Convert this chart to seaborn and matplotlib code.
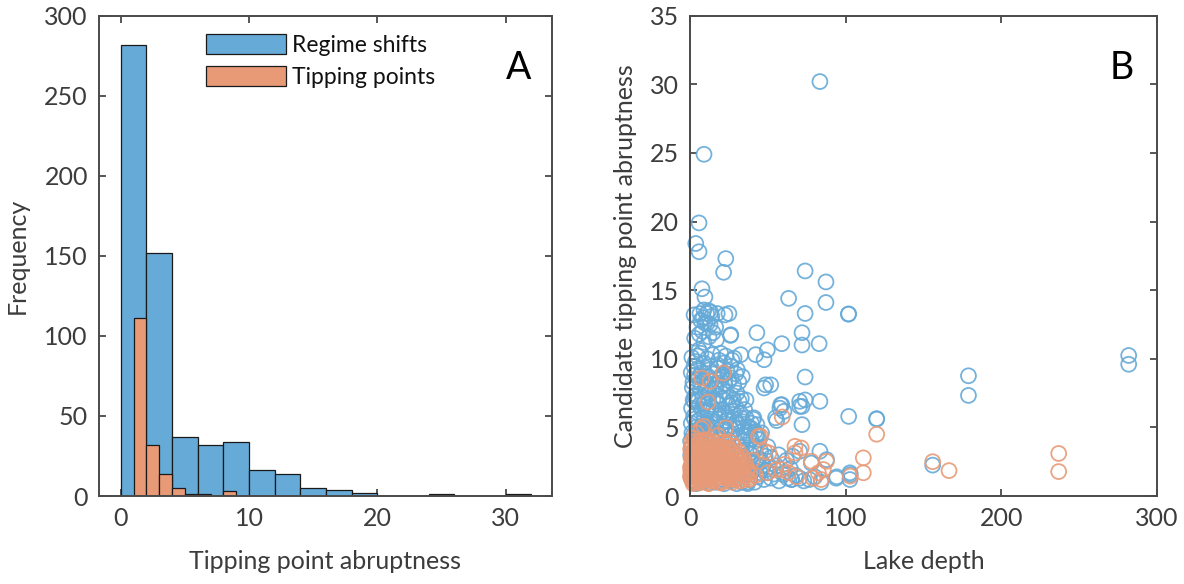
import numpy as np
import pandas as pd
import matplotlib
matplotlib.use("Agg")
import matplotlib.pyplot as plt
import seaborn as sns

# ---------------- data ----------------
# Panel A: histogram bin edges and counts
rs_edges = [0, 2, 4, 6, 8, 10, 12, 14, 16, 18, 20, 22, 24, 26, 28, 30, 32]
rs_counts = [282, 152, 37, 32, 34, 16, 14, 5, 4, 2, 0, 0, 1, 0, 0, 1]
tp_edges = [1, 2, 3, 4, 5, 6, 7, 8, 9]
tp_counts = [111, 32, 14, 5, 1, 1, 0, 3]

# Panel B: lake depth vs abruptness
rs_depth = [
    83.5, 9, 5.8, 3.7, 5.8, 23, 21.6, 74, 87.4, 7.7, 9.6, 63.4, 87.4, 74, 101.8, 25, 22.5, 10.7, 6.4, 8.5,
    12, 14, 9.5, 12.9, 16.5, 43, 26, 72, 17, 59, 72, 83, 2.6, 9, 13.3, 17.5, 6.9, 11.1, 26.2, 49.7,
    42.2, 47.6, 32.6, 28.3, 23, 19.7, 5.8, 4.7, 2.6, 9, 13.3, 17.5, 26.2, 30.4, 33.6, 21.9, 5.8, 48.6, 51.9, 74,
    59, 74, 72, 83.5, 55.7, 72, 102, 120, 179, 179, 282, 282, 102, 120, 58.3, 60.4, 55, 70.5, 70.5, 57.8,
    83.5, 70.5, 87.8, 78, 156, 94, 103, 102.8, 43.3, 45.5, 39, 41, 32.6, 47.6,
    1.5, 3.2, 4.8, 6.5, 8.2, 10.1, 12.4, 14.7, 16.3, 18.8, 20.5, 23.1, 25.6, 27.9, 30.2, 33.0,
    1.0, 2.7, 4.4, 6.0, 7.9, 9.6, 11.3, 13.8, 15.9, 18.0, 20.2, 22.7, 24.9, 27.3, 29.8, 32.4, 35.1,
    0.8, 2.3, 3.9, 5.6, 7.4, 9.2, 11.0, 12.9, 14.6, 16.8, 19.1, 21.0, 23.5, 25.8, 28.4, 31.0, 34.2, 37.5, 40.6, 43.0,
    1.2, 2.9, 4.6, 6.3, 8.0, 9.9, 11.7, 13.5, 15.4, 17.6, 19.8, 22.0, 24.3, 26.7, 29.1, 31.5, 33.9, 36.4, 39.2, 41.8, 44.5,
    0.9, 2.5, 4.2, 6.1, 8.6, 10.8, 12.9, 15.1, 17.3, 19.5, 21.8, 24.0, 26.2, 28.7, 31.1, 33.6, 36.0, 38.5, 41.2, 48.3,
    1.4, 3.0, 5.0, 7.1, 9.3, 11.5, 13.9, 16.2, 18.5, 20.9, 23.3, 25.7, 28.0, 30.4, 32.8, 35.2, 37.9, 40.3, 43.1, 46.0,
    0.7, 2.2, 3.8, 5.5, 7.6, 9.7, 11.9, 14.2, 16.6, 19.0, 21.4, 23.8, 26.1, 28.5, 31.0, 33.4, 35.9, 38.4, 40.8, 43.5,
    47.6, 49.7, 52.0, 54.0, 57.2, 60.4, 62.8, 65.3, 67.9, 70.5, 73.1, 76.8, 80.2, 84.3, 94.3, 102.8, 60, 65.3, 36.8, 50.5,
    1.2, 3.5, 7.0, 11.0, 14.5, 18.5, 22.0, 27.0,
    0.8, 2.9, 5.2, 7.6, 10.4, 12.6, 15.3, 17.9, 20.6, 23.8, 26.5, 29.5,
    1.9, 4.1, 6.7, 9.3, 11.8, 14.2, 16.9, 19.4, 22.3, 25.0, 28.1, 31.4,
    2.0, 5.1, 8.9, 12.0, 17.2, 21.0, 26.3, 31.6, 36.0,
    3.0, 8.6, 13.4, 18.2, 24.5, 29.6, 36.0, 39.5,
    2.0, 5.3, 10.6, 16.5, 25.3, 34.8, 38.0, 42.6, 46.0,
    39.8, 42.0, 44.2, 47.0, 48.8, 45.0, 41.5, 37.0, 30.0, 22.0, 12.0, 4.0, 1.0, 0.5, 0.4,
    52.0, 55.5, 50.0, 57.0, 62.0, 64.5, 66.0,
    3.0, 6.0, 9.0, 12.2, 4.5, 8.0, 14.8,
]
rs_abrupt = [
    30.2, 24.9, 19.9, 18.4, 17.8, 17.3, 16.3, 16.4, 15.6, 15.1, 14.5, 14.4, 14.1, 13.3, 13.25, 13.3, 13.2, 13.3, 13.3, 13.0,
    13.5, 13.1, 12.6, 12.5, 12.3, 11.9, 11.7, 11.9, 11.4, 11.1, 11.0, 11.1, 13.2, 13.56, 13.4, 13.3, 12.8, 12.6, 11.75, 10.65,
    10.3, 9.93, 10.3, 10.05, 10.2, 10.4, 10.65, 10.2, 9.45, 9.7, 9.45, 9.56, 9.45, 9.2, 8.7, 8.84, 8.7, 8.1, 8.1, 8.67,
    6.65, 7.0, 6.53, 6.9, 5.5, 5.2, 5.8, 5.64, 8.76, 7.33, 10.24, 9.6, 13.27, 5.6, 6.65, 6.17, 5.7, 6.9, 6.53, 6.4,
    3.26, 3.26, 2.65, 2.4, 2.25, 1.3, 1.56, 1.69, 4.47, 3.26, 4.96, 5.7, 5.7, 7.87,
    7.9, 7.3, 8.1, 7.7, 7.2, 7.9, 7.5, 7.0, 7.8, 7.3, 8.0, 7.6, 7.2, 7.0, 7.5, 7.1,
    6.4, 6.9, 6.1, 6.6, 6.3, 6.8, 6.2, 6.5, 6.0, 6.7, 6.3, 6.0, 6.6, 6.2, 6.4, 6.0, 6.3,
    5.3, 5.8, 5.0, 5.5, 5.1, 5.7, 5.2, 5.6, 5.0, 5.4, 5.9, 5.1, 5.5, 5.0, 5.6, 5.2, 5.4, 5.0, 5.6, 5.2,
    4.6, 4.1, 4.8, 4.3, 4.7, 4.2, 4.9, 4.4, 4.0, 4.6, 4.2, 4.8, 4.1, 4.5, 4.9, 4.3, 4.0, 4.6, 4.2, 4.7, 4.1,
    3.6, 3.1, 3.8, 3.3, 3.7, 3.2, 3.9, 3.4, 3.0, 3.6, 3.2, 3.8, 3.3, 3.0, 3.6, 3.2, 3.7, 3.1, 3.5, 2.9,
    2.6, 2.1, 2.8, 2.3, 2.7, 2.2, 2.9, 2.4, 2.0, 2.6, 2.2, 2.8, 2.3, 2.0, 2.7, 2.3, 2.0, 2.6, 2.2, 2.5,
    1.5, 1.1, 1.8, 1.3, 1.6, 1.1, 1.9, 1.4, 1.0, 1.7, 1.2, 1.5, 1.1, 1.8, 1.3, 1.0, 1.6, 1.2, 1.9, 1.4,
    1.2, 1.7, 1.3, 1.6, 1.1, 1.7, 1.3, 1.2, 1.5, 1.3, 1.1, 1.2, 1.4, 1.0, 1.4, 1.2, 1.56, 1.2, 1.0, 2.1,
    10.1, 9.8, 10.4, 10.0, 10.3, 9.9, 9.7, 9.9,
    9.0, 8.8, 9.3, 9.0, 8.7, 9.2, 8.9, 9.3, 8.8, 9.1, 8.6, 8.9,
    8.3, 8.5, 8.2, 8.4, 8.0, 8.4, 8.1, 8.5, 8.2, 8.4, 8.1, 8.3,
    7.0, 6.9, 6.7, 7.1, 6.9, 7.1, 6.8, 6.9, 7.0,
    5.6, 5.4, 5.3, 5.6, 5.7, 5.4, 5.7, 5.3,
    4.4, 4.5, 4.5, 4.3, 4.4, 4.4, 4.4, 4.5, 4.6,
    3.0, 3.4, 2.7, 2.2, 1.9, 1.7, 1.0, 0.9, 0.9, 0.9, 0.95, 0.9, 2.0, 3.0, 4.0,
    2.8, 2.2, 3.6, 3.0, 2.6, 2.0, 2.9,
    11.5, 11.8, 11.2, 11.6, 12.3, 12.0, 11.9,
]

tp_depth = [
    0.8, 2.4, 4.1, 6.2, 8.4, 10.6, 12.8, 15.0, 17.7, 20.3, 23.6, 28.3,
    1.3, 3.0, 5.0, 7.2, 9.5, 11.6, 13.9, 16.1, 18.4, 21.0, 23.2, 25.9, 30.1,
    0.6, 2.1, 3.8, 5.7, 7.9, 10.2, 12.3, 14.6, 16.9, 19.2, 21.5, 24.0, 26.8, 29.5, 32.1,
    1.1, 2.8, 4.6, 6.5, 8.7, 10.9, 13.1, 15.5, 17.8, 20.2, 22.7, 25.1, 27.6, 30.3, 33.0, 35.8,
    0.5, 2.0, 3.6, 5.4, 7.3, 9.4, 11.6, 13.8, 16.0, 18.3, 20.7, 23.1, 25.6, 28.1, 30.7, 33.5, 36.6,
    1.0, 2.6, 4.3, 6.1, 8.1, 10.2, 12.4, 14.7, 17.1, 19.6, 22.1, 24.6, 27.2, 29.8, 32.5, 35.3, 38.0,
    7.5, 12.9, 21.4, 11.5, 9.0, 23.0, 7.5, 45.4, 28.3, 50.8, 48.0, 59.3, 67.5, 71.5, 67.5, 78.0,
    87.7, 85.7, 82.5, 111.4, 111.4, 120.0, 156.0, 166.5, 237.0, 237.0, 63.2, 68.5, 79.0, 84.3, 103.0, 49.7,
    60.4, 55.0, 59.0, 42.0, 40.0, 44.0, 4.0, 18.0,
    1.8, 3.4, 5.3, 7.4, 9.6, 11.8, 14.1, 16.4, 19.0, 21.8, 25.0, 26.5,
    0.4, 2.2, 4.0, 6.1, 8.3, 10.6, 12.8, 15.0, 17.2, 19.8, 22.2, 24.6, 27.4, 31.5,
    1.4, 3.0, 4.8, 6.8, 9.0, 11.3, 13.5, 15.8, 18.1, 20.4, 22.8, 25.3, 28.1, 30.9, 34.0,
    0.3, 2.0, 3.7, 5.6, 7.6, 9.8, 12.0, 14.3, 16.7, 19.1, 21.5, 23.9, 26.4, 29.0, 31.7, 34.5, 37.0,
    1.3, 2.9, 4.5, 6.3, 8.4, 10.5, 12.7, 15.0, 17.2, 19.5, 22.0, 24.4, 26.9, 29.4, 32.1, 35.0, 38.5,
    0.3, 1.8, 3.4, 5.2, 7.2, 9.2, 11.3, 13.5, 15.9, 18.3, 20.8, 23.3, 25.9, 28.5, 31.1, 33.9, 36.8,
    2.0, 6.0, 12.0, 20.0,
]
tp_abrupt = [
    3.9, 4.2, 3.7, 4.0, 3.6, 4.1, 3.8, 3.5, 3.9, 3.6, 3.8, 3.6,
    3.2, 3.4, 3.0, 3.3, 3.1, 3.4, 3.0, 3.3, 3.1, 3.4, 3.0, 3.3, 3.0,
    2.8, 2.6, 2.9, 2.5, 2.8, 2.6, 2.9, 2.5, 2.7, 2.9, 2.5, 2.8, 2.6, 2.9, 2.5,
    2.3, 2.0, 2.4, 2.1, 2.3, 2.0, 2.4, 2.1, 2.3, 2.0, 2.4, 2.1, 2.3, 2.0, 2.2, 2.4,
    1.8, 1.6, 1.9, 1.5, 1.8, 1.6, 1.9, 1.5, 1.7, 1.9, 1.6, 1.8, 1.5, 1.7, 1.9, 1.6, 1.8,
    1.2, 1.0, 1.4, 1.1, 1.3, 1.0, 1.4, 1.1, 1.3, 1.0, 1.4, 1.2, 1.0, 1.3, 1.1, 1.4, 1.2,
    8.6, 8.35, 8.96, 6.85, 5.08, 4.96, 4.9, 4.35, 3.62, 3.14, 3.26, 5.76, 3.62, 3.5, 3.14, 2.53,
    2.53, 1.93, 1.69, 2.78, 1.69, 4.5, 2.5, 1.85, 3.1, 1.78, 1.7, 1.4, 1.3, 1.2, 1.45, 1.69,
    2.3, 1.9, 1.93, 1.5, 2.6, 4.35, 4.6, 4.4,
    3.6, 4.0, 3.8, 3.5, 3.9, 3.6, 4.0, 3.7, 3.5, 3.9, 3.5, 3.9,
    3.4, 3.1, 3.3, 3.2, 3.0, 3.2, 3.3, 3.1, 3.4, 3.2, 3.1, 3.4, 3.1, 3.2,
    2.7, 2.5, 2.7, 2.9, 2.5, 2.7, 2.8, 2.6, 2.5, 2.7, 2.9, 2.6, 2.5, 2.7, 2.8,
    2.1, 2.3, 2.2, 2.0, 2.2, 2.4, 2.1, 2.2, 2.4, 2.2, 2.1, 2.3, 2.2, 2.4, 2.1, 2.3, 2.0,
    1.7, 1.8, 1.6, 1.7, 1.9, 1.7, 1.6, 1.8, 1.6, 1.7, 1.9, 1.7, 1.6, 1.8, 1.7, 1.5, 1.7,
    1.4, 1.2, 1.1, 1.3, 1.2, 1.4, 1.2, 1.3, 1.2, 1.4, 1.1, 1.3, 1.4, 1.2, 1.4, 1.2, 1.3,
    0.9, 0.95, 0.9, 0.95,
]

# ---------------- styling ----------------
BLUE = "#66AAD8"
ORANGE = "#E89A77"
SPINE = "#4a4a4a"
TXT = "#3c3c3c"

sns.set_theme(style="white")
plt.rcParams["font.family"] = ["Lato", "DejaVu Sans"]
FS = 18
LFS = 16.5

fig = plt.figure(figsize=(11.84, 5.84), dpi=100)
axA = fig.add_axes([99 / 1184, 88 / 584, 452.7 / 1184, 480.3 / 584])
axB = fig.add_axes([690 / 1184, 88 / 584, 466.7 / 1184, 480.3 / 584])

# Panel A
rs_centers = [(a + b) / 2 for a, b in zip(rs_edges[:-1], rs_edges[1:])]
tp_centers = [(a + b) / 2 for a, b in zip(tp_edges[:-1], tp_edges[1:])]
sns.histplot(x=rs_centers, weights=rs_counts, bins=rs_edges, color=BLUE, alpha=1,
             edgecolor="#1a1a1a", linewidth=0.9, ax=axA, label="Regime shifts")
sns.histplot(x=tp_centers, weights=tp_counts, bins=tp_edges, color=ORANGE, alpha=1,
             edgecolor="#1a1a1a", linewidth=0.9, ax=axA, label="Tipping points")
axA.set_xlim(-1.7, 33.6)
axA.set_ylim(0, 300)
axA.set_xticks([0, 10, 20, 30])
axA.set_yticks([0, 50, 100, 150, 200, 250, 300])
axA.set_xlabel("Tipping point abruptness", fontsize=FS, color=TXT, labelpad=14)
axA.set_ylabel("Frequency", fontsize=FS, color=TXT, labelpad=11)
leg = axA.legend(loc="upper left", bbox_to_anchor=(0.237, 0.962), frameon=False,
                 fontsize=LFS, handlelength=3.5, handleheight=1.0, labelspacing=0.42,
                 handletextpad=0.25, borderaxespad=0, borderpad=0)
for t in leg.get_texts():
    t.set_color("#111111")
axA.text(0.926, 0.891, "A", transform=axA.transAxes, fontsize=27, ha="center", va="center", color="black")

# Panel B
sns.scatterplot(x=rs_depth, y=rs_abrupt, ax=axB, marker="o", s=115, facecolor="none",
                edgecolor=BLUE, linewidth=1.3, alpha=0.9, clip_on=False)
sns.scatterplot(x=tp_depth, y=tp_abrupt, ax=axB, marker="o", s=115, facecolor="none",
                edgecolor=ORANGE, linewidth=1.3, alpha=0.9, clip_on=False)
axB.set_xlim(0, 300)
axB.set_ylim(0, 35)
axB.set_xticks([0, 100, 200, 300])
axB.set_yticks([0, 5, 10, 15, 20, 25, 30, 35])
axB.set_xlabel("Lake depth", fontsize=FS, color=TXT, labelpad=14)
axB.set_ylabel("Candidate tipping point abruptness", fontsize=FS, color=TXT, labelpad=9)
axB.text(0.925, 0.891, "B", transform=axB.transAxes, fontsize=27, ha="center", va="center", color="black")

for ax in (axA, axB):
    for sp in ax.spines.values():
        sp.set_color(SPINE)
        sp.set_linewidth(1.4)
        sp.set_visible(True)
        sp.set_zorder(5)
    ax.tick_params(direction="in", top=True, right=True, bottom=True, left=True,
                   length=5, width=1.3, color=SPINE, labelsize=FS, labelcolor=TXT, pad=8)
    ax.set_facecolor("white")

fig.savefig("out.png", dpi=100, facecolor="white")
